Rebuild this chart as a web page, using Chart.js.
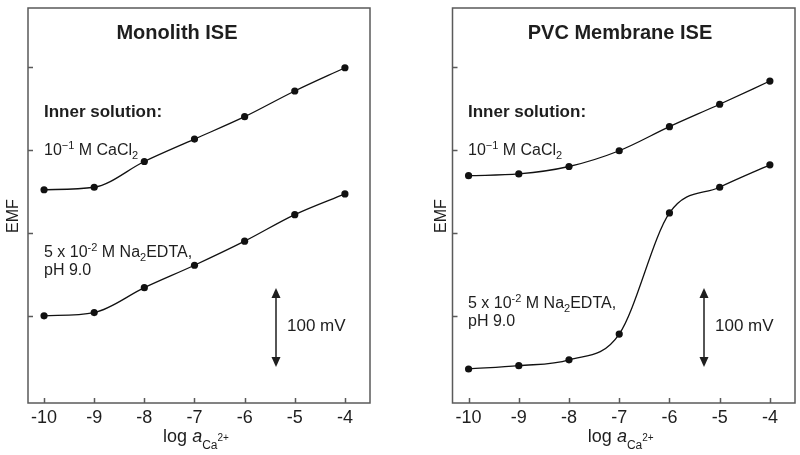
<!DOCTYPE html>
<html>
<head>
<meta charset="utf-8">
<script src="https://cdn.jsdelivr.net/npm/chart.js@4.4.0/dist/chart.umd.min.js"></script>
<style>
  html, body { margin: 0; padding: 0; background: #fff; }
  #wrap { position: relative; width: 800px; height: 455px; }
  .panel { position: absolute; top: 0; width: 400px; height: 455px; }
</style>
</head>
<body>
<div id="wrap">
  <div class="panel" style="left:0"><canvas id="monolith" width="400" height="455"></canvas></div>
  <div class="panel" style="left:400px"><canvas id="pvc" width="400" height="455"></canvas></div>
</div>
<script>
// log activity of Ca2+ in the sample
const logA = [-10, -9, -8, -7, -6, -5, -4];
const xTicks = [-10, -9, -8, -7, -6, -5, -4];
// EMF tick marks, 100 mV apart (unlabelled in the figure)
const yTicks = [0, 100, 200, 300];

// EMF readings (mV, arbitrary offset)
const monoCaCl2 = [152, 155, 186, 213, 240, 271, 299];
const monoEDTA = [0, 4, 34, 61, 90, 122, 147];
const pvcCaCl2 = [169, 171, 180, 199, 228, 255, 283];
const pvcEDTA = [-64, -60, -53, -22, 124, 155, 182];

const FAM = '"Liberation Sans", Arial, Helvetica, sans-serif';
const INK = "#1e1e1e";
const FRAME = "#5a5a5a";

function f(size, weight, style) {
  return (style || "") + " " + (weight || "") + " " + size + "px " + FAM;
}

// draw text made of pieces, some raised or lowered
function richText(ctx, x, y, parts, align) {
  let w = 0;
  parts.forEach(p => { ctx.font = p.font; p.w = ctx.measureText(p.t).width; w += p.w; });
  let cx = align === "center" ? x - w / 2 : x;
  ctx.textAlign = "left";
  ctx.textBaseline = "alphabetic";
  parts.forEach(p => {
    ctx.font = p.font;
    ctx.fillText(p.t, cx, y + (p.dy || 0));
    cx += p.w;
  });
}

function arrow(ctx, x, y1, y2) {
  ctx.strokeStyle = INK;
  ctx.fillStyle = INK;
  ctx.lineWidth = 1.5;
  ctx.beginPath();
  ctx.moveTo(x, y1 + 6);
  ctx.lineTo(x, y2 - 6);
  ctx.stroke();
  ctx.beginPath();
  ctx.moveTo(x, y1); ctx.lineTo(x - 4.5, y1 + 10); ctx.lineTo(x + 4.5, y1 + 10);
  ctx.closePath(); ctx.fill();
  ctx.beginPath();
  ctx.moveTo(x, y2); ctx.lineTo(x - 4.5, y2 - 10); ctx.lineTo(x + 4.5, y2 - 10);
  ctx.closePath(); ctx.fill();
}

const decor = {
  id: "decor",
  afterDraw(chart, args, o) {
    const ctx = chart.ctx;
    const a = chart.chartArea;
    const xs = chart.scales.x, ys = chart.scales.y;
    ctx.save();
    // frame + inward ticks
    ctx.strokeStyle = FRAME;
    ctx.lineWidth = 1.5;
    ctx.strokeRect(a.left, a.top, a.right - a.left, a.bottom - a.top);
    ctx.beginPath();
    xTicks.forEach(v => {
      const px = Math.round(xs.getPixelForValue(v)) + 0.5;
      ctx.moveTo(px, a.bottom); ctx.lineTo(px, a.bottom - 5);
    });
    yTicks.forEach(v => {
      const py = Math.round(ys.getPixelForValue(v)) + 0.5;
      ctx.moveTo(a.left, py); ctx.lineTo(a.left + 5, py);
    });
    ctx.stroke();

    ctx.fillStyle = INK;
    // panel title
    ctx.font = f(20, "bold");
    ctx.textAlign = "center";
    ctx.textBaseline = "alphabetic";
    ctx.fillText(o.title, o.titleX, 39);

    // y title
    ctx.save();
    ctx.translate(o.emfX, 216);
    ctx.rotate(-Math.PI / 2);
    ctx.font = f(16);
    ctx.textAlign = "center";
    ctx.textBaseline = "middle";
    ctx.fillText("EMF", 0, 0);
    ctx.restore();

    // x title
    richText(ctx, (a.left + a.right) / 2 - 3, 442, [
      { t: "log ", font: f(18) },
      { t: "a", font: f(18, "", "italic") },
      { t: "Ca", font: f(12), dy: 7 },
      { t: "2+", font: f(10), dy: -1 }
    ], "center");

    // inner solution notes
    ctx.font = f(17, "bold");
    ctx.textAlign = "left";
    ctx.fillText("Inner solution:", o.textX, 117);
    richText(ctx, o.textX, 155, [
      { t: "10", font: f(16) },
      { t: "\u22121", font: f(11), dy: -6 },
      { t: " M CaCl", font: f(16) },
      { t: "2", font: f(11), dy: 4 }
    ]);
    richText(ctx, o.textX, o.edtaY, [
      { t: "5 x 10", font: f(16) },
      { t: "-2", font: f(11), dy: -6 },
      { t: " M Na", font: f(16) },
      { t: "2", font: f(11), dy: 4 },
      { t: "EDTA,", font: f(16) }
    ]);
    ctx.font = f(16);
    ctx.fillText("pH 9.0", o.textX, o.edtaY + 18);

    // 100 mV scale bar
    arrow(ctx, o.arrowX, 288, 367);
    ctx.font = f(17);
    ctx.textBaseline = "middle";
    ctx.fillText("100 mV", o.arrowX + 11, 326);
    ctx.restore();
  }
};

function series(data) {
  return {
    data: logA.map((x, i) => ({ x: x, y: data[i] })),
    borderColor: "#111",
    backgroundColor: "#111",
    borderWidth: 1.3,
    pointRadius: 3.6,
    pointBorderWidth: 0,
    cubicInterpolationMode: "monotone",
    fill: false
  };
}

function makeChart(id, sets, yWidth, padRight, o) {
  return new Chart(document.getElementById(id), {
    type: "line",
    data: { datasets: sets.map(series) },
    options: {
      responsive: false,
      animation: false,
      layout: { padding: { top: 8, right: padRight, left: 0, bottom: 0 } },
      plugins: { legend: { display: false }, tooltip: { enabled: false }, decor: o },
      scales: {
        x: {
          type: "linear",
          min: -10.32,
          max: -3.5,
          afterBuildTicks: s => { s.ticks = xTicks.map(v => ({ value: v })); },
          afterFit: s => { s.height = 52; },
          grid: { display: false, drawTicks: false },
          border: { display: false },
          ticks: {
            padding: 4,
            color: INK,
            font: { family: FAM, size: 18 },
            callback: v => String(v)
          }
        },
        y: {
          type: "linear",
          min: -105,
          max: 371,
          afterBuildTicks: s => { s.ticks = yTicks.map(v => ({ value: v })); },
          afterFit: s => { s.width = yWidth; },
          grid: { display: false, drawTicks: false },
          border: { display: false },
          ticks: { display: false }
        }
      }
    },
    plugins: [decor]
  });
}

makeChart("monolith", [monoCaCl2, monoEDTA], 28, 30, {
  title: "Monolith ISE", titleX: 177, emfX: 14, textX: 44, edtaY: 257, arrowX: 276
});
makeChart("pvc", [pvcCaCl2, pvcEDTA], 52.5, 5, {
  title: "PVC Membrane ISE", titleX: 220, emfX: 42, textX: 68, edtaY: 308, arrowX: 304
});
</script>
</body>
</html>
